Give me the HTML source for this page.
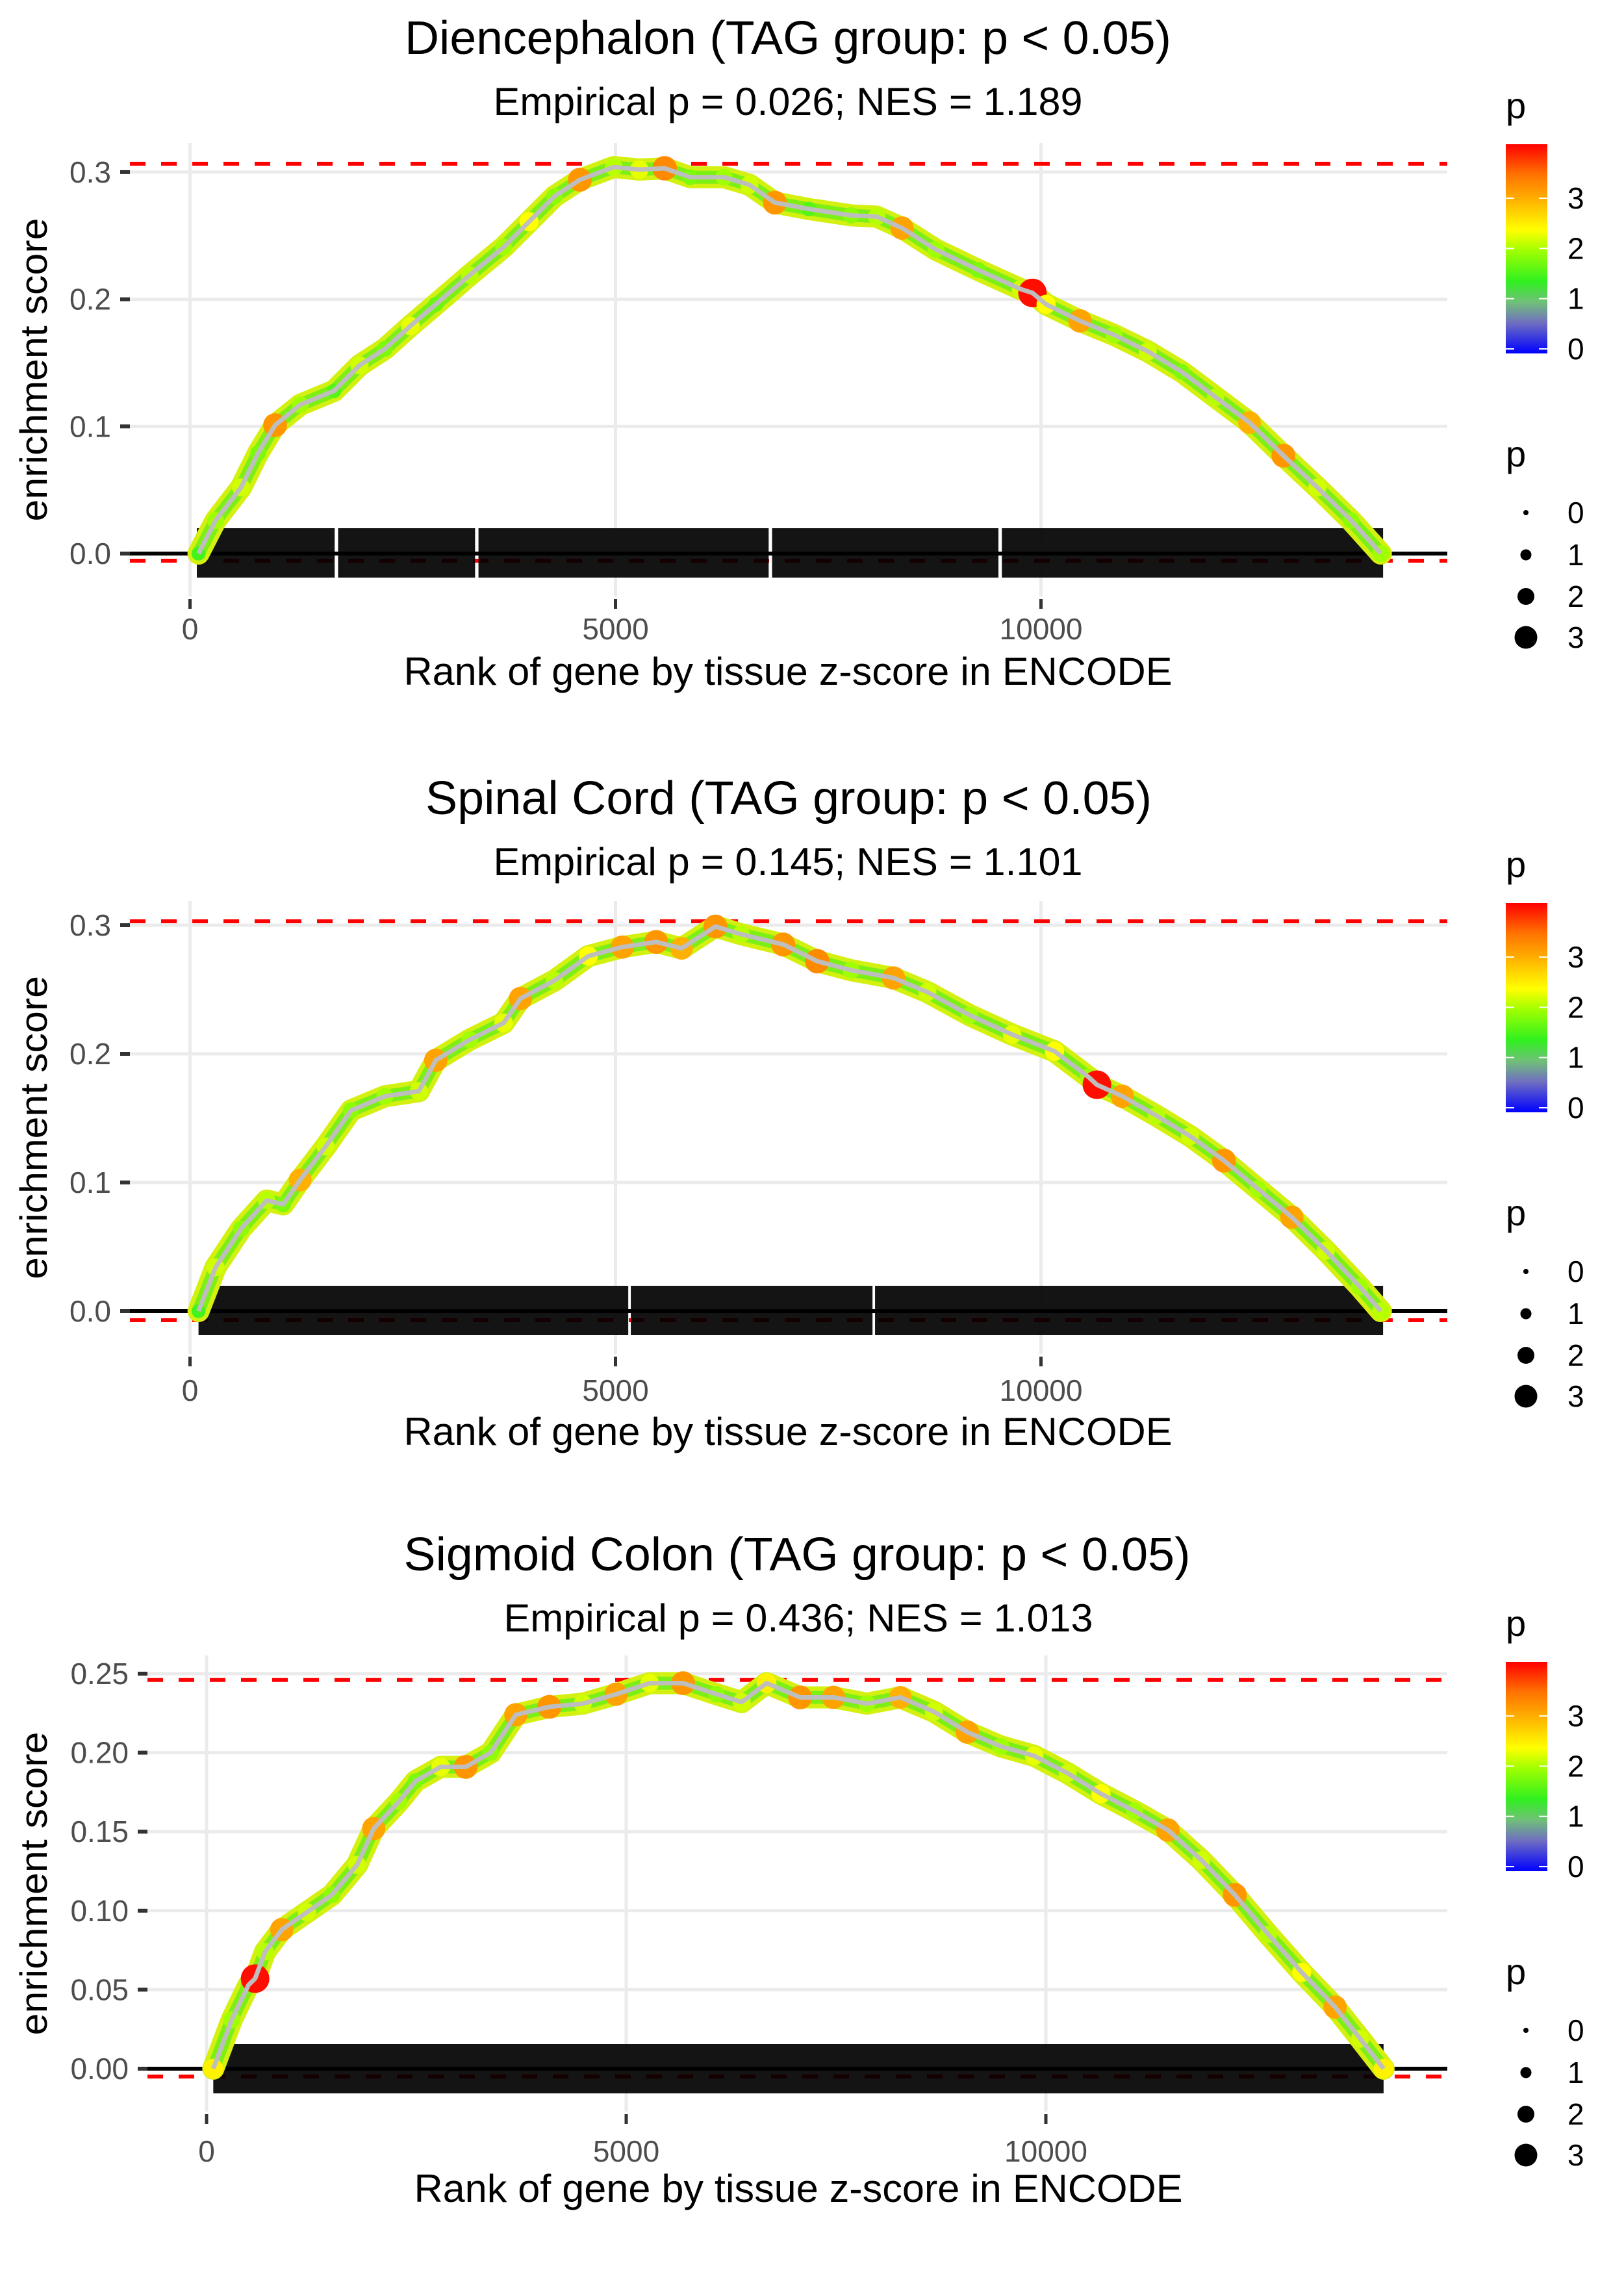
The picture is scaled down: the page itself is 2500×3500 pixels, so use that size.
<!DOCTYPE html>
<html><head><meta charset="utf-8"><style>
html,body{margin:0;padding:0;background:#fff;}
svg{display:block;font-family:"Liberation Sans",Arial,sans-serif;}
</style></head><body>
<svg id="chart" width="2500" height="3500" viewBox="0 0 2500 3500" xmlns="http://www.w3.org/2000/svg"></svg>
<script>
// ---------- Data: panel 1 (Diencephalon) ----------
const p1Rank = [100,300,600,800,1000,1295,1693,1992,2290,2590,2888,3287,3685,3984,4283,4582,4980,5279,5578,5877,6275,6574,6873,7271,7769,8068,8367,8765,9263,9761,9900,10060,10458,10857,11255,11653,12052,12450,12849,13247,13645,13994];
const p1ES   = [0,0.026,0.052,0.079,0.101,0.117,0.128,0.148,0.161,0.179,0.196,0.219,0.241,0.261,0.281,0.294,0.304,0.302,0.303,0.296,0.296,0.290,0.276,0.271,0.266,0.265,0.256,0.239,0.223,0.208,0.205,0.196,0.183,0.172,0.159,0.143,0.123,0.103,0.077,0.052,0.026,0];
const p1P    = [1.5,2.0,2.2,1.8,3.2,2.0,1.6,2.2,1.8,2.3,1.7,2.1,2.0,2.4,1.9,3.2,2.1,2.3,3.3,1.8,2.0,2.2,3.2,1.6,1.9,2.1,3.1,2.0,1.8,2.2,4.0,2.4,3.1,2.0,2.2,1.8,2.1,3.0,3.2,2.2,1.9,2.0];
const p1Blocks = [[80,1700],[1740,3350],[3390,6800],[6840,9500],[9540,14020]];
const p1Stats = {title:"Diencephalon (TAG group: p < 0.05)", sub:"Empirical p = 0.026; NES = 1.189", esMax:0.3066, esMin:-0.0056};

// ---------- Data: panel 2 (Spinal Cord) ----------
const p2Rank = [100,300,600,900,1096,1295,1594,1892,2290,2689,2888,3287,3685,3884,4283,4681,5080,5478,5777,6175,6474,6972,7371,7769,8267,8665,9163,9661,10159,10558,10657,10956,11355,11753,12151,12550,12948,13347,13745,13994];
const p2ES   = [0,0.034,0.064,0.086,0.083,0.102,0.128,0.156,0.167,0.171,0.195,0.211,0.224,0.243,0.257,0.276,0.283,0.287,0.282,0.299,0.293,0.285,0.272,0.265,0.259,0.248,0.230,0.215,0.202,0.182,0.176,0.167,0.152,0.136,0.117,0.095,0.073,0.047,0.019,0];
const p2P    = [1.5,2.2,1.9,2.1,1.8,3.0,2.2,1.9,2.0,2.2,3.1,2.0,2.3,3.1,2.1,2.4,3.1,3.2,3.0,3.2,2.1,3.2,3.3,2.0,3.1,2.2,2.0,2.3,2.4,2.0,4.0,3.1,2.1,2.2,3.2,2.0,3.1,2.2,2.0,2.1];
const p2Blocks = [[100,5150],[5180,8020],[8050,14020]];
const p2Stats = {title:"Spinal Cord (TAG group: p < 0.05)", sub:"Empirical p = 0.145; NES = 1.101", esMax:0.3030, esMin:-0.0071};

// ---------- Data: panel 3 (Sigmoid Colon) ----------
const p3Rank = [80,300,500,578,697,896,1195,1494,1793,1992,2291,2490,2789,3088,3386,3685,4084,4482,4880,5279,5677,6076,6375,6673,7072,7470,7869,8267,8665,9064,9462,9861,10259,10657,11056,11454,11853,12251,12649,13048,13446,13745,14024];
const p3ES   = [0,0.031,0.053,0.057,0.074,0.088,0.099,0.110,0.129,0.152,0.169,0.182,0.191,0.191,0.200,0.224,0.229,0.231,0.237,0.244,0.244,0.237,0.232,0.244,0.235,0.235,0.231,0.235,0.226,0.213,0.204,0.198,0.187,0.174,0.163,0.151,0.132,0.110,0.085,0.061,0.039,0.019,0];
const p3P    = [2.5,2.0,1.8,4.0,2.1,3.1,2.2,1.9,2.2,3.1,2.0,1.8,2.3,3.2,1.9,3.1,3.2,2.2,3.1,2.3,3.2,1.9,2.2,2.5,3.2,3.1,2.0,3.0,2.2,3.1,2.0,2.3,2.2,2.4,2.0,3.1,2.2,3.2,2.1,2.4,3.1,2.2,2.5];
const p3Blocks = [[80,14024]];
const p3Stats = {title:"Sigmoid Colon (TAG group: p < 0.05)", sub:"Empirical p = 0.436; NES = 1.013", esMax:0.2460, esMin:-0.0050};

const xTicks = [0,5000,10000];
const xTickLabels = ["0","5000","10000"];
const yTicks12 = [0,0.1,0.2,0.3];
const yTickLabels12 = ["0.0","0.1","0.2","0.3"];
const yTicks3 = [0,0.05,0.10,0.15,0.20,0.25];
const yTickLabels3 = ["0.00","0.05","0.10","0.15","0.20","0.25"];
const legendColorTicks = [0,1,2,3];
const legendSizeTicks = [0,1,2,3];

const NS = "http://www.w3.org/2000/svg";
const svg = document.getElementById("chart");
function mk(tag, attrs, parent){
  const e = document.createElementNS(NS, tag);
  for (const k in attrs) e.setAttribute(k, attrs[k]);
  (parent||svg).appendChild(e);
  return e;
}
const stops = [[0,[0,0,255]],[0.6,[112,112,192]],[1.0,[112,192,120]],[1.4,[48,240,32]],[2.0,[160,255,0]],[2.4,[255,255,0]],[3.0,[255,176,0]],[3.5,[255,112,0]],[4.07,[255,0,0]]];
function pColor(p){
  if (p<=stops[0][0]) return "rgb("+stops[0][1].join(",")+")";
  for (let i=1;i<stops.length;i++){
    if (p<=stops[i][0]){
      const a=stops[i-1], b=stops[i], t=(p-a[0])/(b[0]-a[0]);
      const c=a[1].map((v,j)=>Math.round(v+(b[1][j]-v)*t));
      return "rgb("+c.join(",")+")";
    }
  }
  return "rgb(255,0,0)";
}
function pRadius(p){ return 4 + 4.5*p; }

function drawPanel(cfg, rank, es, pv, blocks, stats, yTicks, yLabels, idx){
  const g = mk("g", {});
  
  
  const X = r => cfg.x0 + r*cfg.pxPerRank;
  const Y = v => cfg.y0 - v*cfg.pxPerUnit;
  const T = cfg.textDy;
  let t = mk("text",{x:cfg.titleX,y:83+T,"text-anchor":"middle","font-size":72,fill:"#000",textLength:cfg.titleW,lengthAdjust:"spacingAndGlyphs"},g);
  t.textContent = stats.title;
  
  
  t = mk("text",{x:cfg.subX,y:177+T,"text-anchor":"middle","font-size":60,fill:"#000",textLength:907,lengthAdjust:"spacingAndGlyphs"},g);
  t.textContent = stats.sub;
  
  
  yTicks.forEach(v=>{
    const l = mk("line",{x1:cfg.left,x2:cfg.right,y1:Y(v),y2:Y(v),stroke:"#ebebeb","stroke-width":5},g);
    
    
  });
  xTicks.forEach(v=>{
    const l = mk("line",{x1:X(v),x2:X(v),y1:cfg.top,y2:cfg.bottom,stroke:"#ebebeb","stroke-width":5},g);
    
    
  });
  yTicks.forEach((v,i)=>{
    const l = mk("line",{x1:cfg.left-15,x2:cfg.left,y1:Y(v),y2:Y(v),stroke:"#333","stroke-width":6},g);
    
    
    const tx = mk("text",{x:cfg.left-29,y:Y(v)+16,"text-anchor":"end","font-size":46,fill:"#4d4d4d"},g);
    tx.textContent = yLabels[i];
    
    
  });
  xTicks.forEach((v,i)=>{
    const l = mk("line",{x1:X(v),x2:X(v),y1:cfg.bottom+4,y2:cfg.bottom+19,stroke:"#333","stroke-width":5},g);
    
    
    const tx = mk("text",{x:X(v),y:cfg.xLabelY,"text-anchor":"middle","font-size":46,fill:"#4d4d4d"},g);
    tx.textContent = xTickLabels[i];
    
    
  });
  t = mk("text",{x:cfg.subX,y:cfg.xTitleY,"text-anchor":"middle","font-size":60,fill:"#000",textLength:1183,lengthAdjust:"spacingAndGlyphs"},g);
  t.textContent = "Rank of gene by tissue z-score in ENCODE";
  
  
  const cy = (cfg.top+cfg.bottom)/2;
  t = mk("text",{x:0,y:0,"text-anchor":"middle","font-size":58,fill:"#000",transform:"translate(72,"+cy+") rotate(-90)",textLength:467,lengthAdjust:"spacingAndGlyphs"},g);
  t.textContent = "enrichment score";
  
  
  let l = mk("line",{x1:cfg.left,x2:cfg.right,y1:Y(0),y2:Y(0),stroke:"#000","stroke-width":6},g);
  
  
  l = mk("line",{x1:cfg.left,x2:cfg.right,y1:Y(stats.esMax),y2:Y(stats.esMax),stroke:"#ff0000","stroke-width":6,"stroke-dasharray":"24 24"},g);
  
  
  l = mk("line",{x1:cfg.left,x2:cfg.right,y1:Y(stats.esMin),y2:Y(stats.esMin),stroke:"#ff0000","stroke-width":6,"stroke-dasharray":"24 24"},g);
  
  
  blocks.forEach(b=>{
    const r = mk("rect",{x:X(b[0]),y:cfg.barTop,width:X(b[1])-X(b[0]),height:cfg.barBottom-cfg.barTop,fill:"#000","fill-opacity":0.92},g);
    
    
  });
  const pts = rank.map((r,i)=>X(r)+","+Y(es[i])).join(" ");
  let pl = mk("polyline",{points:pts,fill:"none",stroke:"#d4f010","stroke-width":34,"stroke-linejoin":"round","stroke-linecap":"round"},g);
  
  
  pl = mk("polyline",{points:pts,fill:"none",stroke:"#7cf014","stroke-width":20,"stroke-linejoin":"round","stroke-linecap":"round"},g);
  
  
  rank.forEach((r,i)=>{
    const c = mk("circle",{cx:X(r),cy:Y(es[i]),r:pRadius(pv[i]),fill:pColor(pv[i])},g);
    
    
  });
  pl = mk("polyline",{points:pts,fill:"none",stroke:"#bebebe","stroke-width":7,"stroke-linejoin":"round"},g);
  
  

  const L = cfg.legendDy;
  t = mk("text",{x:2318,y:182+L,"font-size":56,fill:"#000"},g);
  t.textContent = "p";
  
  
  const gid = "grad"+idx;
  const defs = mk("defs",{},g);
  const lg = mk("linearGradient",{id:gid,x1:0,y1:1,x2:0,y2:0},defs);
  stops.forEach(s=>{ mk("stop",{offset:(s[0]/4.07),"stop-color":pColor(s[0])},lg); });
  const barTop = 222+L, barBot = 544+L, unit = 77.3, v0 = 537+L;
  const cb = mk("rect",{x:2318,y:barTop,width:64,height:barBot-barTop,fill:"url(#"+gid+")"},g);
  
  
  legendColorTicks.forEach(v=>{
    const yy = v0 - v*unit;
    mk("line",{x1:2318,x2:2331,y1:yy,y2:yy,stroke:"#fff","stroke-width":2},g);
    mk("line",{x1:2369,x2:2382,y1:yy,y2:yy,stroke:"#fff","stroke-width":2},g);
    const tx = mk("text",{x:2413,y:yy+16,"font-size":46,fill:"#000"},g);
    tx.textContent = String(v);
    
    
  });
  t = mk("text",{x:2318,y:718+L,"font-size":56,fill:"#000"},g);
  t.textContent = "p";
  
  
  const sizeY = [789,854,918,981];
  legendSizeTicks.forEach((v,i)=>{
    const c = mk("circle",{cx:2349,cy:sizeY[i]+L,r:pRadius(v)},g);
    
    
    const tx = mk("text",{x:2413,y:sizeY[i]+L+16,"font-size":46,fill:"#000"},g);
    tx.textContent = String(v);
    
    
  });
}

drawPanel({left:200,right:2228,top:220,bottom:918,x0:292.5,pxPerRank:655/5000,y0:852,pxPerUnit:1957,
  barTop:813,barBottom:889,xLabelY:984,xTitleY:1054,textDy:0,legendDy:0,titleX:1213,titleW:1180,subX:1213},
  p1Rank,p1ES,p1P,p1Blocks,p1Stats,yTicks12,yTickLabels12,1);
drawPanel({left:200,right:2228,top:1387,bottom:2084,x0:292.5,pxPerRank:655/5000,y0:2018,pxPerUnit:1980,
  barTop:1979,barBottom:2055,xLabelY:2156,xTitleY:2224,textDy:1170,legendDy:1168,titleX:1214,titleW:1118,subX:1213},
  p2Rank,p2ES,p2P,p2Blocks,p2Stats,yTicks12,yTickLabels12,2);
drawPanel({left:227,right:2228,top:2548,bottom:3250,x0:318,pxPerRank:646/5000,y0:3184,pxPerUnit:2432,
  barTop:3146,barBottom:3222,xLabelY:3327,xTitleY:3389,textDy:2334,legendDy:2336,titleX:1227,titleW:1211,subX:1229},
  p3Rank,p3ES,p3P,p3Blocks,p3Stats,yTicks3,yTickLabels3,3);
</script>
</body></html>
